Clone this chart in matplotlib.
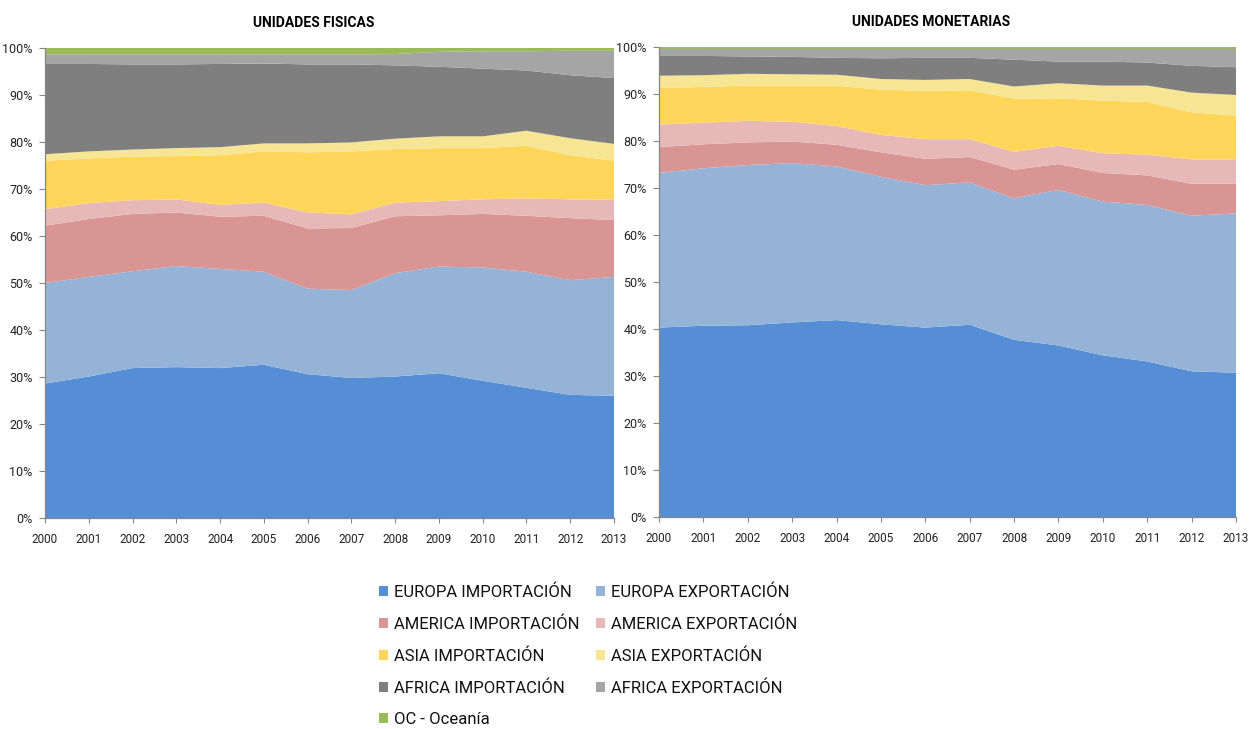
import matplotlib.pyplot as plt
from matplotlib import font_manager
from matplotlib.ticker import PercentFormatter

years = list(range(2000, 2014))

# ---- UNIDADES FISICAS (share %) ----
fis_europa_imp = [28.6, 30.1, 31.9, 32.1, 31.9, 32.6, 30.6, 29.8, 30.1, 30.8, 29.2, 27.7, 26.2, 26.0]
fis_europa_exp = [21.4, 21.2, 20.6, 21.5, 21.1, 19.8, 18.2, 18.7, 22.0, 22.7, 24.1, 24.7, 24.4, 25.3]
fis_america_imp = [12.2, 12.3, 12.2, 11.4, 11.1, 11.9, 12.8, 13.2, 12.1, 10.9, 11.4, 11.9, 13.2, 12.1]
fis_america_exp = [3.5, 3.4, 2.9, 2.8, 2.5, 2.8, 3.4, 2.9, 2.9, 3.0, 3.1, 3.7, 4.0, 4.3]
fis_asia_imp = [10.3, 9.5, 9.3, 9.2, 10.6, 10.9, 12.8, 13.4, 11.4, 11.3, 10.9, 11.2, 9.4, 8.3]
fis_asia_exp = [1.4, 1.5, 1.5, 1.7, 1.7, 1.7, 1.9, 1.9, 2.2, 2.5, 2.5, 3.2, 3.6, 3.6]
fis_africa_imp = [19.2, 18.6, 18.1, 17.8, 17.7, 17.0, 16.8, 16.6, 15.6, 14.8, 14.4, 12.8, 13.4, 14.0]
fis_africa_exp = [2.0, 2.0, 2.1, 2.1, 2.0, 1.9, 2.1, 2.1, 2.4, 3.2, 3.7, 4.1, 5.2, 5.8]
fis_oceania = [1.4, 1.4, 1.4, 1.4, 1.4, 1.4, 1.4, 1.4, 1.3, 0.8, 0.7, 0.7, 0.6, 0.6]

# ---- UNIDADES MONETARIAS (share %) ----
mon_europa_imp = [40.3, 40.7, 40.8, 41.4, 41.9, 41.0, 40.3, 40.9, 37.7, 36.5, 34.4, 33.1, 31.0, 30.7]
mon_europa_exp = [32.9, 33.5, 34.1, 33.9, 32.7, 31.4, 30.3, 30.3, 30.1, 33.1, 32.7, 33.3, 33.1, 33.9]
mon_america_imp = [5.5, 5.1, 4.8, 4.6, 4.6, 5.2, 5.6, 5.4, 6.1, 5.5, 6.1, 6.3, 6.8, 6.3]
mon_america_exp = [4.8, 4.6, 4.6, 4.2, 4.0, 3.7, 4.2, 3.8, 3.8, 3.9, 4.2, 4.4, 5.2, 5.2]
mon_asia_imp = [7.8, 7.6, 7.5, 7.7, 8.6, 9.6, 10.3, 10.4, 11.3, 10.1, 11.2, 11.2, 10.0, 9.3]
mon_asia_exp = [2.6, 2.5, 2.5, 2.4, 2.3, 2.3, 2.3, 2.4, 2.6, 3.2, 3.2, 3.5, 4.2, 4.4]
mon_africa_imp = [4.2, 4.1, 3.7, 3.7, 3.6, 4.4, 4.7, 4.5, 5.7, 4.6, 5.1, 4.9, 5.7, 5.9]
mon_africa_exp = [1.5, 1.5, 1.6, 1.7, 1.9, 2.0, 1.9, 1.9, 2.3, 2.7, 2.7, 2.9, 3.6, 3.9]
mon_oceania = [0.4, 0.4, 0.4, 0.4, 0.4, 0.4, 0.4, 0.4, 0.4, 0.4, 0.4, 0.4, 0.4, 0.4]

labels = ["EUROPA IMPORTACIÓN", "EUROPA EXPORTACIÓN",
          "AMERICA IMPORTACIÓN", "AMERICA EXPORTACIÓN",
          "ASIA IMPORTACIÓN", "ASIA EXPORTACIÓN",
          "AFRICA IMPORTACIÓN", "AFRICA EXPORTACIÓN",
          "OC - Oceanía"]
colors = ["#558ED5", "#95B3D7", "#D99594", "#E6B9B8",
          "#FFD55A", "#F6E592", "#7F7F7F", "#A5A5A5", "#9BBB59"]

# narrow font if present, otherwise Roboto (closest to Calibri width)
installed = {f.name for f in font_manager.fontManager.ttflist}
main_font = "Liberation Sans Narrow" if "Liberation Sans Narrow" in installed else "Roboto"
plt.rcParams["font.family"] = [main_font, "DejaVu Sans"]


def draw_panel(ax, series, title, title_x):
    polys = ax.stackplot(years, *series, colors=colors, labels=labels, linewidth=0)
    ax.set_xlim(2000, 2013)
    ax.set_ylim(0, 100)
    ax.set_xticks(years)
    ax.set_xticklabels([str(y) for y in years])
    ax.set_yticks(range(0, 101, 10))
    ax.yaxis.set_major_formatter(PercentFormatter(decimals=0))
    ax.tick_params(axis="y", labelsize=9, length=4, color="#868686", pad=5,
                   labelcolor="#222222")
    ax.tick_params(axis="x", labelsize=8.5, length=3.5, color="#868686", pad=7,
                   labelcolor="#222222")
    for s in ["top", "right"]:
        ax.spines[s].set_visible(False)
    for s in ["left", "bottom"]:
        ax.spines[s].set_color("#868686")
        ax.spines[s].set_linewidth(0.9)
    ax.set_title(title, fontsize=10, fontweight="bold", pad=15, x=title_x)
    return polys


fig = plt.figure(figsize=(12.5, 7.29), dpi=100)
ax1 = fig.add_axes([0.036, 0.2894, 0.4552, 0.6448])
ax2 = fig.add_axes([0.5272, 0.2908, 0.4616, 0.6447])

polys = draw_panel(ax1, [fis_europa_imp, fis_europa_exp, fis_america_imp, fis_america_exp,
                         fis_asia_imp, fis_asia_exp, fis_africa_imp, fis_africa_exp,
                         fis_oceania], "UNIDADES FISICAS", 0.473)
draw_panel(ax2, [mon_europa_imp, mon_europa_exp, mon_america_imp, mon_america_exp,
                 mon_asia_imp, mon_asia_exp, mon_africa_imp, mon_africa_exp,
                 mon_oceania], "UNIDADES MONETARIAS", 0.471)

# legend fills column-first, so reorder to get row-wise pairs
order = [0, 2, 4, 6, 8, 1, 3, 5, 7]
fig.legend([polys[i] for i in order], [labels[i] for i in order],
           ncol=2, loc="upper left", bbox_to_anchor=(0.303, 0.198),
           frameon=False, fontsize=12, handlelength=0.55, handleheight=0.55,
           handletextpad=0.35, columnspacing=1.0, labelspacing=0.98,
           borderaxespad=0, borderpad=0, labelcolor="#111111")

fig.savefig("out.png", dpi=100)
